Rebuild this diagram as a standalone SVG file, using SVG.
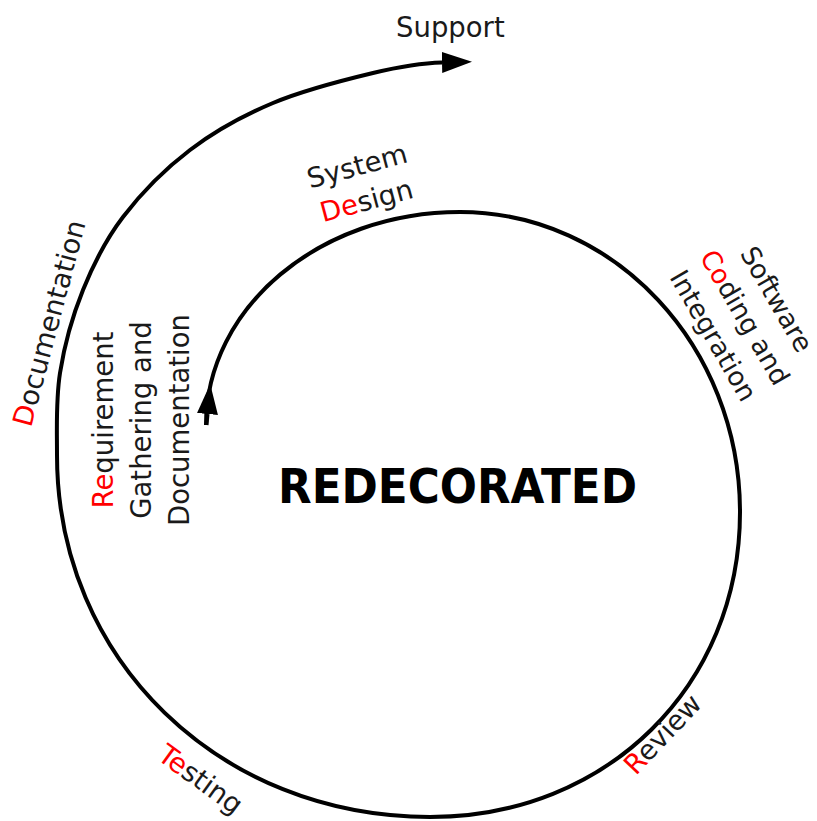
<svg xmlns="http://www.w3.org/2000/svg" width="817" height="821" viewBox="0 0 817 821">
<defs>
<style>
.lbl{font-family:"DejaVu Sans","Liberation Sans",sans-serif;font-size:27.5px;fill:#1a1a1a}
.sm{font-size:26.5px}
.red{fill:#ff0000}
.title{font-family:"DejaVu Sans","Liberation Sans",sans-serif;font-size:48px;font-weight:bold;fill:#000}
.spiral{fill:none;stroke:#000;stroke-width:4}
</style>
<marker id="arrow" markerUnits="userSpaceOnUse" markerWidth="30" markerHeight="21" viewBox="0 0 30 21" refX="0" refY="10.5" orient="auto">
<path d="M0,0 L30,10.5 L0,21 z" fill="#000"/>
</marker>
</defs>
<rect width="817" height="821" fill="#fff"/>
<g id="connectors">
<path class="spiral" d="M206,425 C206,307.4 319.7,212 460,212 C614.6,212 740,346.3 740,512 C740,685.9 606.7,817 430,817 C219.3,817 57,659.5 57,455 C57,425.5 55.7,400.5 60,373 C64.3,345.5 72.5,316 83,290 C93.5,264 105.2,240.3 123,217 C140.8,193.7 165,169 190,150 C215,131 242.5,115.8 273,103 C303.5,90.2 344.8,79.75 373,73 C401.2,66.25 420,63 442,62.5" marker-end="url(#arrow)"/>
<path class="spiral" d="M206.5,425 L207.5,414" marker-end="url(#arrow)"/>
</g>
<g id="title">
<text class="title" x="457.5" y="503" text-anchor="middle" textLength="359" lengthAdjust="spacingAndGlyphs">REDECORATED</text>
</g>
<g id="support">
<text class="lbl" x="396" y="37">Support</text>
</g>
<g id="system-design">
<text class="lbl" transform="translate(364.3,192.5) rotate(-15)" text-anchor="middle"><tspan x="0" y="-18">System</tspan><tspan x="0" y="18"><tspan class="red">De</tspan>sign</tspan></text>
</g>
<g id="coding">
<text class="lbl sm" transform="translate(737,322) rotate(60)" text-anchor="middle"><tspan x="0" y="-36.5">Software</tspan><tspan x="0" y="0"><tspan class="red">Co</tspan>ding and</tspan><tspan x="0" y="36.5">Integration</tspan></text>
</g>
<g id="review">
<text class="lbl" transform="translate(669.5,740.7) rotate(-46.5)" text-anchor="middle"><tspan class="red">R</tspan>eview</text>
</g>
<g id="testing">
<text class="lbl" transform="translate(195,787) rotate(36)" text-anchor="middle"><tspan class="red">Te</tspan>sting</text>
</g>
<g id="requirement">
<text class="lbl" transform="translate(151,420) rotate(-90)" text-anchor="middle"><tspan x="0" y="-38"><tspan class="red">Re</tspan>quirement</tspan><tspan x="0" y="0">Gathering and</tspan><tspan x="0" y="38">Documentation</tspan></text>
</g>
<g id="documentation">
<text class="lbl" transform="translate(31,428) rotate(-75)"><tspan class="red">D</tspan>ocumentation</text>
</g>
</svg>
